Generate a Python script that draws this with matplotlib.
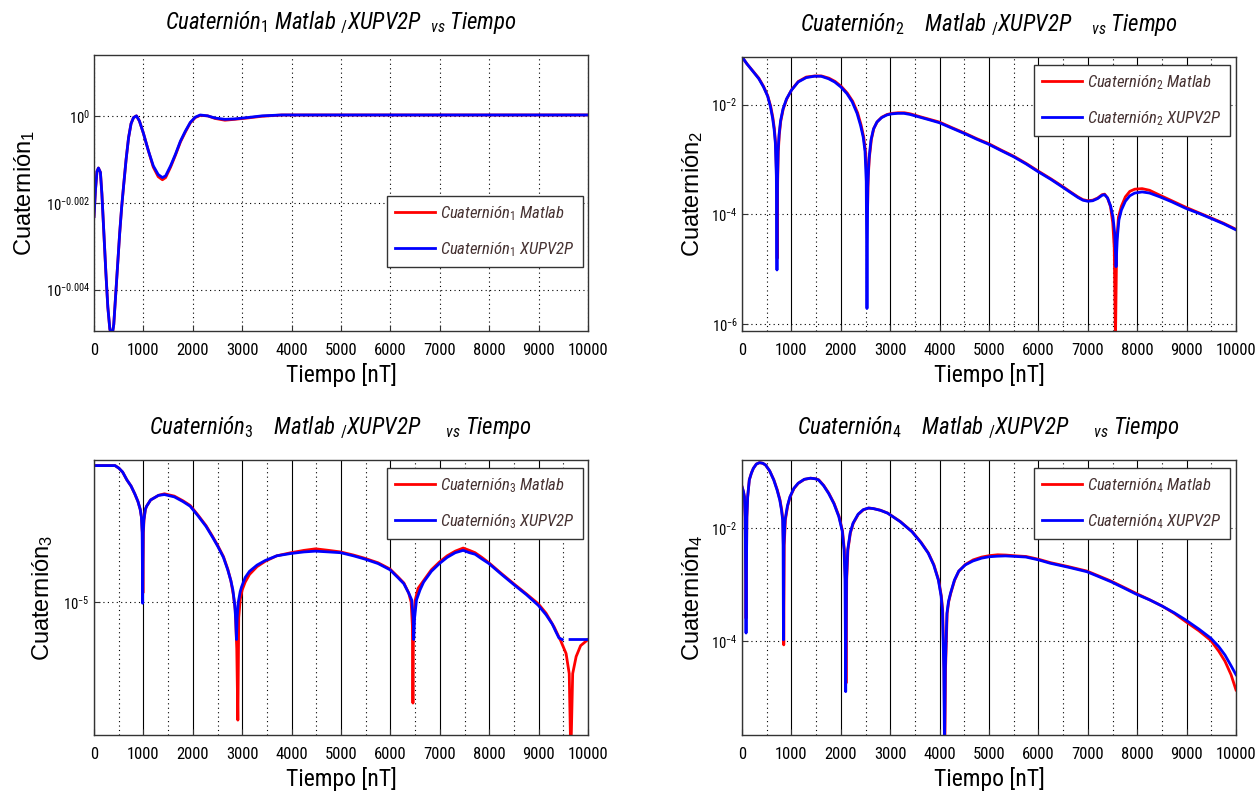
import numpy as np
import matplotlib
matplotlib.use('Agg')
import matplotlib.pyplot as plt
from matplotlib.ticker import FixedLocator, FixedFormatter, NullLocator

plt.rcParams['font.family'] = ['Roboto Condensed', 'Liberation Sans', 'DejaVu Sans']
plt.rcParams['mathtext.fontset'] = 'custom'
plt.rcParams['mathtext.rm'] = 'Roboto Condensed'
plt.rcParams['mathtext.it'] = 'Roboto Condensed:italic'
plt.rcParams['mathtext.sf'] = 'Liberation Sans'

# values as log10(q)
# Cuaternion 1
t1_mat = [0, 30, 60, 90, 130, 160, 200, 240, 280, 320, 360, 400, 440, 480, 520, 560, 600, 650, 700, 750, 800, 860,
          920, 1000, 1100, 1200, 1300, 1385, 1450, 1550, 1650, 1750, 1850, 1950, 2050, 2150, 2300, 2450, 2650, 2850,
          3100, 3400, 3800, 10000]
q1_mat = [-0.00232, -0.0017, -0.00128, -0.0012, -0.0013, -0.0018, -0.0027, -0.0036, -0.0044, -0.0049, -0.0051,
          -0.0048, -0.0041, -0.0034, -0.0027, -0.0021, -0.0016, -0.0010, -0.0005, -0.00018, -0.00004, 0.0,
          -0.00012, -0.0004, -0.0008, -0.00118, -0.0014, -0.00147, -0.00142, -0.00118, -0.0009, -0.0006,
          -0.00037, -0.00016, -0.00004, 0.00001, 0.0, -0.00006, -0.0001, -0.00008, -0.00005, -0.00001, 0.00002,
          0.00002]
t1_xup = [0, 30, 60, 90, 130, 160, 200, 240, 280, 320, 360, 400, 440, 480, 520, 560, 600, 650, 700, 750, 800, 860,
          920, 1000, 1100, 1200, 1300, 1385, 1450, 1550, 1650, 1750, 1850, 1950, 2050, 2150, 2300, 2450, 2650, 2850,
          3100, 3400, 3800, 10000]
q1_xup = [-0.00232, -0.0017, -0.00128, -0.0012, -0.0013, -0.0018, -0.0027, -0.0036, -0.0044, -0.0049, -0.0051,
          -0.0048, -0.0041, -0.0034, -0.0027, -0.0021, -0.0016, -0.0010, -0.0005, -0.00018, -0.00004, 0.0,
          -0.00012, -0.0004, -0.0008, -0.00115, -0.00135, -0.00142, -0.00138, -0.00115, -0.00088, -0.00058,
          -0.00035, -0.00015, -0.00003, 0.00002, 0.0, -0.00005, -0.00008, -0.00007, -0.00004, 0.0, 0.00002,
          0.00002]

# Cuaternion 2
t2_xup = [0, 100, 230, 340, 436, 520, 576, 620, 650, 675, 695, 708, 718, 730, 750, 780, 830, 900, 1000, 1136, 1300,
          1465, 1600, 1750, 1876, 2000, 2123, 2230, 2329, 2400, 2453, 2490, 2515, 2530, 2545, 2570, 2610, 2660, 2730,
          2823, 2930, 3029, 3150, 3276, 3400, 3600, 3800, 3992, 4250, 4510, 4750, 4987, 5250, 5498, 5750, 5991, 6250,
          6485, 6650, 6800, 6900, 7000, 7100, 7200, 7290, 7340, 7400, 7460, 7510, 7545, 7572, 7595, 7630, 7680, 7760,
          7850, 7950, 8100, 8250, 8460, 8700, 8987, 9250, 9489, 9750, 10000]
q2_xup = [-1.133, -1.26, -1.406, -1.53, -1.68, -1.85, -2.04, -2.25, -2.45, -2.7, -3.3, -5.01, -3.4, -2.85, -2.55,
          -2.3, -2.08, -1.9, -1.74, -1.59, -1.51, -1.485, -1.485, -1.53, -1.59, -1.68, -1.80, -1.95, -2.16, -2.38,
          -2.59, -2.85, -3.4, -5.71, -3.5, -3.0, -2.65, -2.45, -2.32, -2.24, -2.19, -2.17, -2.16, -2.16, -2.18,
          -2.23, -2.28, -2.33, -2.43, -2.53, -2.63, -2.72, -2.84, -2.95, -3.08, -3.22, -3.36, -3.50, -3.6, -3.69,
          -3.74, -3.76, -3.75, -3.71, -3.65, -3.64, -3.70, -3.84, -4.05, -4.35, -4.95, -4.45, -4.1, -3.92, -3.76,
          -3.66, -3.61, -3.59, -3.61, -3.68, -3.77, -3.89, -3.98, -4.07, -4.17, -4.28]
t2_mat = [0, 100, 230, 340, 436, 520, 580, 625, 655, 680, 700, 712, 722, 735, 755, 785, 835, 905, 1005, 1140, 1300,
          1470, 1610, 1760, 1885, 2010, 2130, 2240, 2340, 2410, 2465, 2505, 2528, 2542, 2556, 2580, 2620, 2670, 2740,
          2830, 2940, 3040, 3160, 3290, 3410, 3600, 3800, 4000, 4250, 4510, 4750, 4990, 5250, 5500, 5750, 5995, 6250,
          6490, 6650, 6800, 6900, 7000, 7100, 7200, 7290, 7340, 7400, 7460, 7505, 7535, 7560, 7585, 7620, 7680, 7760,
          7850, 7950, 8100, 8250, 8460, 8700, 8987, 9250, 9489, 9750, 10000]
q2_mat = [-1.133, -1.26, -1.40, -1.52, -1.67, -1.84, -2.03, -2.24, -2.44, -2.7, -3.3, -4.80, -3.4, -2.85, -2.55,
          -2.3, -2.08, -1.9, -1.73, -1.58, -1.50, -1.48, -1.48, -1.52, -1.58, -1.67, -1.79, -1.94, -2.15, -2.37,
          -2.6, -2.9, -3.4, -3.9, -3.3, -2.95, -2.63, -2.43, -2.31, -2.23, -2.18, -2.16, -2.15, -2.15, -2.17,
          -2.22, -2.27, -2.32, -2.42, -2.52, -2.62, -2.71, -2.83, -2.94, -3.07, -3.21, -3.35, -3.49, -3.59, -3.68,
          -3.73, -3.75, -3.74, -3.70, -3.64, -3.63, -3.70, -3.86, -4.15, -4.6, -6.3, -4.5, -4.05, -3.85, -3.68,
          -3.58, -3.54, -3.53, -3.56, -3.65, -3.75, -3.87, -3.97, -4.06, -4.16, -4.27]

# Cuaternion 3
t3_xup = [0, 425, 505, 580, 665, 750, 825, 890, 935, 960, 975, 985, 995, 1009, 1040, 1065, 1145, 1306, 1426, 1626,
          1800, 1946, 2100, 2267, 2400, 2507, 2620, 2707, 2770, 2811, 2850, 2870, 2884, 2898, 2920, 2960, 2988, 3060,
          3148, 3300, 3468, 3700, 3989, 4250, 4486, 4750, 4990, 5250, 5471, 5750, 5991, 6150, 6272, 6370, 6432, 6460,
          6472, 6490, 6528, 6600, 6672, 6830, 6993, 7150, 7313, 7473, 7600, 7714, 7850, 7994, 8250, 8515, 8750, 8995,
          9150, 9276, 9350, 9412, 9480, 9550, 9636, 10000]
q3_xup = [-4.118, -4.118, -4.135, -4.16, -4.21, -4.25, -4.30, -4.35, -4.40, -4.45, -4.55, -5.006, -4.55, -4.47,
          -4.40, -4.38, -4.34, -4.31, -4.305, -4.32, -4.35, -4.38, -4.44, -4.51, -4.58, -4.64, -4.71, -4.79, -4.86,
          -4.92, -5.02, -5.12, -5.24, -5.10, -5.0, -4.93, -4.90, -4.84, -4.80, -4.76, -4.73, -4.70, -4.685, -4.675,
          -4.67, -4.675, -4.68, -4.70, -4.72, -4.75, -4.79, -4.84, -4.88, -4.94, -4.985, -5.1, -5.24, -5.1, -4.985,
          -4.92, -4.87, -4.80, -4.75, -4.71, -4.68, -4.665, -4.68, -4.69, -4.72, -4.75, -4.82, -4.89, -4.95, -5.02,
          -5.08, -5.14, -5.19, -5.23, -5.24, np.nan, -5.24, -5.24]
t3_mat = [0, 425, 505, 580, 665, 750, 825, 890, 935, 960, 978, 990, 1000, 1012, 1040, 1065, 1145, 1306, 1426, 1626,
          1800, 1946, 2100, 2267, 2400, 2507, 2620, 2707, 2770, 2820, 2860, 2890, 2912, 2930, 2960, 3000, 3060, 3148,
          3300, 3468, 3700, 3989, 4250, 4486, 4750, 4990, 5250, 5471, 5750, 5991, 6150, 6272, 6370, 6420, 6445, 6456,
          6468, 6500, 6560, 6672, 6830, 6993, 7150, 7313, 7473, 7600, 7714, 7850, 7994, 8250, 8515, 8750, 8995, 9150,
          9316, 9450, 9556, 9620, 9652, 9690, 9760, 9850, 10000]
q3_mat = [-4.118, -4.118, -4.135, -4.16, -4.21, -4.25, -4.30, -4.35, -4.40, -4.45, -4.55, -4.94, -4.55, -4.47,
          -4.40, -4.38, -4.34, -4.31, -4.30, -4.315, -4.345, -4.375, -4.435, -4.505, -4.575, -4.635, -4.705,
          -4.785, -4.86, -4.95, -5.05, -5.3, -5.76, -5.1, -4.98, -4.92, -4.87, -4.82, -4.77, -4.735, -4.70, -4.68,
          -4.665, -4.655, -4.665, -4.675, -4.695, -4.715, -4.745, -4.785, -4.835, -4.875, -4.94, -5.0, -5.15, -5.65,
          -5.15, -4.99, -4.91, -4.86, -4.79, -4.74, -4.70, -4.67, -4.65, -4.665, -4.68, -4.71, -4.745, -4.815,
          -4.885, -4.945, -5.01, -5.07, -5.16, -5.25, -5.33, -5.46, -6.0, -5.46, -5.35, -5.28, -5.24]

# Cuaternion 4
t4_xup = [0, 30, 49, 65, 82, 98, 115, 148, 190, 230, 290, 354, 420, 477, 560, 642, 710, 765, 800, 823, 832, 839, 848,
          872, 920, 971, 1050, 1136, 1260, 1383, 1480, 1547, 1650, 1753, 1860, 1959, 2030, 2066, 2085, 2099, 2115,
          2140, 2190, 2247, 2350, 2453, 2560, 2658, 2800, 2946, 3200, 3440, 3620, 3769, 3880, 3975, 4030, 4057, 4085,
          4099, 4115, 4148, 4180, 4222, 4300, 4387, 4520, 4675, 4850, 5004, 5170, 5333, 5550, 5745, 6000, 6238, 6600,
          6979, 7200, 7473, 7730, 7983, 8250, 8502, 8750, 8987, 9250, 9489, 9650, 9777, 9900, 10000]
q4_xup = [-1.26, -1.35, -1.44, -1.8, -3.86, -1.8, -1.44, -1.14, -1.02, -0.935, -0.86, -0.834, -0.845, -0.876, -0.98,
          -1.14, -1.32, -1.50, -1.68, -1.85, -2.3, -3.98, -2.3, -1.85, -1.60, -1.44, -1.29, -1.20, -1.13, -1.11,
          -1.12, -1.14, -1.24, -1.38, -1.56, -1.79, -2.05, -2.38, -2.9, -4.90, -2.9, -2.38, -2.08, -1.91, -1.75,
          -1.67, -1.64, -1.65, -1.68, -1.73, -1.88, -2.06, -2.25, -2.44, -2.65, -2.92, -3.2, -3.45, -4.5, -5.9,
          -4.5, -3.51, -3.3, -3.15, -2.92, -2.76, -2.65, -2.58, -2.53, -2.505, -2.495, -2.49, -2.50, -2.51, -2.56,
          -2.62, -2.69, -2.77, -2.85, -2.95, -3.06, -3.17, -3.27, -3.38, -3.50, -3.63, -3.79, -3.95, -4.10, -4.25,
          -4.44, -4.60]
t4_mat = [0, 30, 49, 65, 82, 98, 115, 148, 190, 230, 290, 354, 420, 477, 560, 645, 715, 770, 805, 828, 838, 845, 855,
          878, 925, 975, 1055, 1140, 1265, 1390, 1485, 1555, 1655, 1760, 1865, 1965, 2035, 2072, 2092, 2106, 2120,
          2145, 2195, 2252, 2355, 2460, 2565, 2665, 2805, 2950, 3205, 3445, 3625, 3774, 3885, 3980, 4035, 4062, 4090,
          4105, 4120, 4153, 4185, 4227, 4305, 4390, 4525, 4680, 4855, 5010, 5175, 5340, 5555, 5750, 6005, 6245, 6605,
          6985, 7205, 7478, 7735, 7990, 8255, 8505, 8750, 8987, 9250, 9489, 9650, 9777, 9900, 10000]
q4_mat = [-1.26, -1.35, -1.44, -1.8, -3.6, -1.8, -1.44, -1.14, -1.02, -0.935, -0.86, -0.834, -0.845, -0.876, -0.98,
          -1.14, -1.32, -1.50, -1.68, -1.85, -2.3, -4.07, -2.3, -1.85, -1.60, -1.44, -1.29, -1.20, -1.13, -1.11,
          -1.12, -1.14, -1.24, -1.38, -1.56, -1.79, -2.05, -2.38, -2.9, -4.75, -2.9, -2.38, -2.08, -1.91, -1.75,
          -1.67, -1.64, -1.65, -1.68, -1.73, -1.88, -2.06, -2.25, -2.44, -2.65, -2.92, -3.2, -3.45, -4.5, -6.0,
          -4.5, -3.51, -3.3, -3.15, -2.92, -2.76, -2.64, -2.56, -2.51, -2.485, -2.47, -2.475, -2.49, -2.50, -2.55,
          -2.61, -2.68, -2.76, -2.84, -2.94, -3.05, -3.16, -3.27, -3.38, -3.51, -3.66, -3.82, -3.99, -4.18, -4.36,
          -4.60, -4.87]

series = [(t1_mat, q1_mat, t1_xup, q1_xup), (t2_mat, q2_mat, t2_xup, q2_xup),
          (t3_mat, q3_mat, t3_xup, q3_xup), (t4_mat, q4_mat, t4_xup, q4_xup)]
subs = ['1', '2', '3', '4']
titles = ['Cuaternión$_{\\mathit{1}}$ Matlab $_{\\mathit{/}}$XUPV2P  $_{\\mathit{vs}}$ Tiempo',
          'Cuaternión$_{\\mathit{2}}$    Matlab $_{\\mathit{/}}$XUPV2P    $_{\\mathit{vs}}$ Tiempo',
          'Cuaternión$_{\\mathit{3}}$    Matlab $_{\\mathit{/}}$XUPV2P     $_{\\mathit{vs}}$ Tiempo',
          'Cuaternión$_{\\mathit{4}}$    Matlab $_{\\mathit{/}}$XUPV2P     $_{\\mathit{vs}}$ Tiempo']
ylims = [(-0.00495, 0.0014), (-6.12, -1.135), (-5.856, -4.082), (-5.67, -0.787)]
ytick_exp = [[-0.004, -0.002, 0], [-6, -4, -2], [-5], [-4, -2]]
ytick_txt = [['-0.004', '-0.002', '0'], ['-6', '-4', '-2'], ['-5'], ['-4', '-2']]
xticks = list(range(0, 10001, 1000))

W, H = 1257, 796
fig = plt.figure(figsize=(W / 100, H / 100), dpi=100)

boxes = [(94, 55, 588, 331), (742, 57, 1236, 331), (94, 460, 588, 735), (742, 460, 1236, 735)]
leg_anchor = [(0.99, 0.49), (0.988, 0.972), (0.99, 0.972), (0.988, 0.972)]
ylab_x = [-0.115, -0.075, -0.079, -0.075]
dots = (0, (1, 3))

for i in range(4):
    l, t, r, b = boxes[i]
    ax = fig.add_axes([l / W, 1 - b / H, (r - l) / W, (b - t) / H])
    tm, qm, tx, qx = series[i]
    ax.plot(tm, 10.0 ** np.array(qm, dtype=float), color='#ff0000', lw=2.0,
            label='Cuaternión$_{\\mathit{%s}}$ Matlab' % subs[i])
    ax.plot(tx, 10.0 ** np.array(qx, dtype=float), color='#0000ff', lw=2.0,
            label='Cuaternión$_{\\mathit{%s}}$ XUPV2P' % subs[i])
    ax.set_yscale('log')
    ax.set_xlim(0, 10000)
    ax.set_ylim(10 ** ylims[i][0], 10 ** ylims[i][1])

    ax.yaxis.set_major_locator(FixedLocator(10.0 ** np.array(ytick_exp[i])))
    ax.yaxis.set_major_formatter(FixedFormatter(['$\\mathregular{10^{%s}}$' % s for s in ytick_txt[i]]))
    ax.yaxis.set_minor_locator(NullLocator())
    ax.set_xticks(xticks)
    ax.set_xticklabels([str(v) for v in xticks])
    ax.tick_params(which='both', direction='in', length=4, width=0.8, color='#333333')
    ax.tick_params(axis='x', pad=8.5, labelsize=12)
    ax.tick_params(axis='y', pad=3, labelsize=10.5)

    ax.grid(True, which='major', axis='y', color='black', lw=0.8, linestyle=dots)
    if i == 0:
        ax.grid(True, which='major', axis='x', color='black', lw=0.8, linestyle=dots)
    else:
        ax.xaxis.set_minor_locator(FixedLocator(list(range(500, 10000, 1000))))
        ax.tick_params(axis='x', which='minor', length=0)
        ax.grid(True, which='major', axis='x', color='black', lw=0.8, linestyle='-')
        ax.grid(True, which='minor', axis='x', color='black', lw=0.8, linestyle=dots)
    for sp in ax.spines.values():
        sp.set_color('#333333')
        sp.set_linewidth(1.0)

    ax.set_title(titles[i], fontsize=16.5, style='italic', pad=19)
    ax.set_xlabel('Tiempo [nT]', fontsize=17, labelpad=4)
    ax.set_ylabel('Cuaternión$_{\\mathsf{%s}}$' % subs[i], fontsize=17, family=['Liberation Sans', 'DejaVu Sans'])
    ax.yaxis.set_label_coords(ylab_x[i], 0.5)

    leg = ax.legend(loc='upper right', bbox_to_anchor=leg_anchor[i], borderaxespad=0, fancybox=False,
                    framealpha=1, edgecolor='#333333', prop={'size': 12, 'style': 'italic'},
                    handlelength=2.4, labelspacing=1.05, borderpad=0.5, handletextpad=0.3)
    leg.get_frame().set_linewidth(1.0)
    for txt in leg.get_texts():
        txt.set_color('#463232')

plt.savefig('out.png', dpi=100)
